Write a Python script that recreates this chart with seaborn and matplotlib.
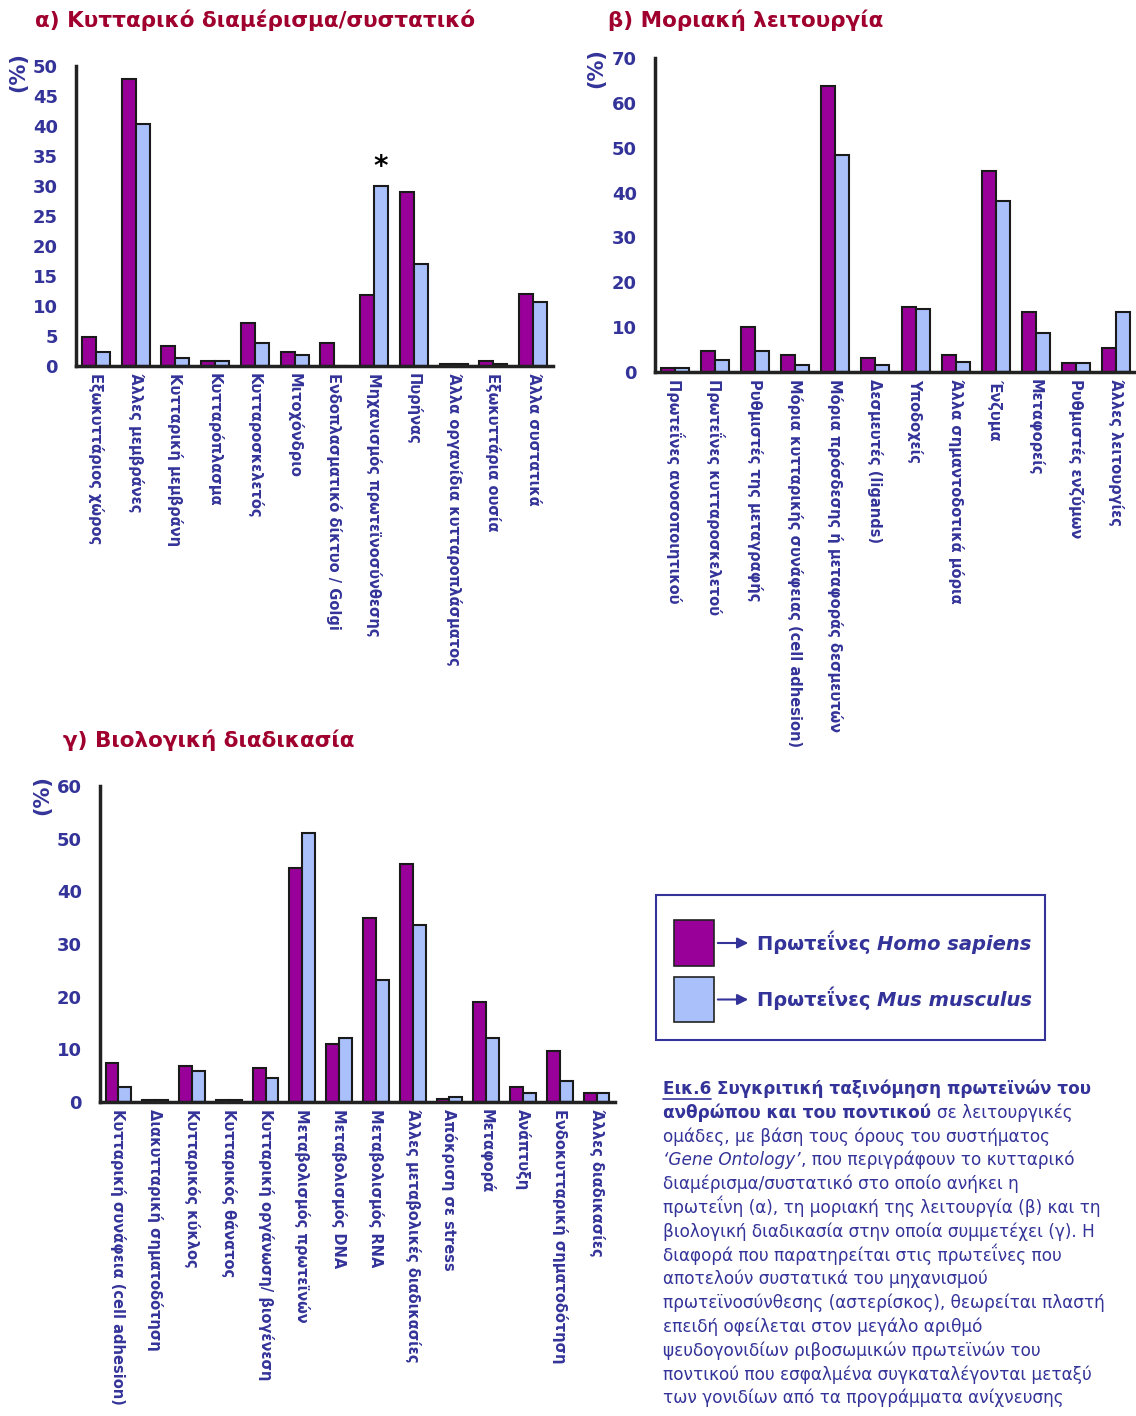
import matplotlib
matplotlib.use('Agg')
import matplotlib.pyplot as plt
import seaborn as sns
import pandas as pd
import numpy as np
from matplotlib.patches import Rectangle, FancyArrowPatch

# ---------------- data ----------------
cats_a = ['Εξωκυττάριος χώρος', 'Άλλες μεμβράνες', 'Κυτταρική μεμβράνη',
          'Κυτταρόπλασμα', 'Κυτταροσκελετός', 'Μιτοχόνδριο',
          'Ενδοπλασματικό δίκτυο / Golgi', 'Μηχανισμός πρωτεϊνοσύνθεσης',
          'Πυρήνας', 'Άλλα οργανίδια κυτταροπλάσματος', 'Εξωκυττάρια ουσία',
          'Άλλα συστατικά']
homo_a = [4.8, 47.8, 3.3, 0.9, 7.2, 2.3, 3.9, 11.8, 29.0, 0.3, 0.8, 12.0]
mus_a = [2.4, 40.3, 1.4, 0.9, 3.8, 1.9, 0.0, 30.0, 17.0, 0.3, 0.4, 10.6]

cats_b = ['Πρωτεΐνες ανοσοποιητικού', 'Πρωτεΐνες κυτταροσκελετού',
          'Ρυθμιστές της μεταγραφής', 'Μόρια κυτταρικής συνάφειας (cell adhesion)',
          'Μόρια πρόσδεσης ή μεταφοράς δεσμευτών', 'Δεσμευτές (ligands)',
          'Υποδοχείς', 'Άλλα σημαντοδοτικά μόρια', 'Ένζυμα', 'Μεταφορείς',
          'Ρυθμιστές ενζύμων', 'Άλλες λειτουργίες']
homo_b = [0.9, 4.6, 10.0, 3.9, 63.8, 3.2, 14.6, 3.9, 44.7, 13.4, 2.0, 5.4]
mus_b = [0.9, 2.7, 4.6, 1.6, 48.3, 1.6, 14.1, 2.2, 38.2, 8.6, 2.0, 13.4]

cats_c = ['Κυτταρική συνάφεια (cell adhesion)', 'Διακυτταρική σηματοδότηση',
          'Κυτταρικός κύκλος', 'Κυτταρικός θάνατος',
          'Κυτταρική οργάνωση/ βιογένεση', 'Μεταβολισμός πρωτεϊνών',
          'Μεταβολισμός DNA', 'Μεταβολισμός RNA',
          'Άλλες μεταβολικές διαδικασίες', 'Απόκριση σε stress', 'Μεταφορά',
          'Ανάπτυξη', 'Ενδοκυτταρική σηματοδότηση', 'Άλλες διαδικασίες']
homo_c = [7.4, 0.4, 6.9, 0.4, 6.4, 44.4, 11.1, 34.9, 45.2, 0.5, 18.9, 2.9, 9.6, 1.7]
mus_c = [2.9, 0.4, 5.8, 0.4, 4.6, 51.0, 12.2, 23.1, 33.6, 1.0, 12.2, 1.7, 4.0, 1.7]

species = ['Homo sapiens', 'Mus musculus']

PURPLE = '#990099'
LIGHTBLUE = '#a9c0fb'
EDGE = '#1a1a1a'
NAVY = '#333399'
TITLE_RED = '#a0002e'

W, H = 1136, 1416
fig = plt.figure(figsize=(W / 100, H / 100), dpi=100)
sns.set_style('white')
plt.rcParams['font.family'] = ['DejaVu Sans']


def rect(x0, x1, ytop, ybot):
    return [x0 / W, 1 - ybot / H, (x1 - x0) / W, (ybot - ytop) / H]


def fy(y):
    return 1 - y / H


def panel(r, cats, hs, ms, ymax, step, title, title_xy, pct_xy):
    n = len(cats)
    ax = fig.add_axes(r)
    df = pd.DataFrame({'cat': cats * 2, 'val': hs + ms,
                       'sp': [species[0]] * n + [species[1]] * n})
    sns.barplot(data=df, x='cat', y='val', hue='sp', order=cats,
                hue_order=species, palette=[PURPLE, LIGHTBLUE], saturation=1,
                width=0.7, edgecolor=EDGE, linewidth=1.5, legend=False, ax=ax)
    ax.set_xlim(-0.5, n - 0.5)
    ax.set_ylim(0, ymax)
    ax.set_yticks(range(0, ymax + 1, step))
    ax.set_xlabel('')
    ax.set_ylabel('')
    for s in ['top', 'right']:
        ax.spines[s].set_visible(False)
    for s in ['left', 'bottom']:
        ax.spines[s].set_linewidth(2.5)
        ax.spines[s].set_color('#222222')
    ax.set_xticks(range(n))
    ax.set_xticklabels(cats, rotation=270, ha='center', va='top',
                       fontsize=10.5, fontweight='bold', color=NAVY)
    ax.tick_params(axis='x', which='major', length=0, pad=5)
    ax.set_xticks(np.arange(-0.5, n), minor=True)
    ax.tick_params(axis='x', which='minor', length=7, width=2, color='#222222')
    ax.tick_params(axis='y', length=5, width=2, color='#222222',
                   labelsize=13, labelcolor=NAVY, pad=8)
    for lbl in ax.get_yticklabels():
        lbl.set_fontweight('bold')
    fig.text(title_xy[0] / W, fy(title_xy[1]), title, fontsize=15.5,
             fontweight='bold', color=TITLE_RED, va='center', ha='left')
    fig.text(pct_xy[0] / W, fy(pct_xy[1]), '(%)', fontsize=15,
             fontweight='bold', color=NAVY, rotation=90, va='center', ha='center')
    return ax


ax_a = panel(rect(76, 553, 66, 366), cats_a, homo_a, mus_a, 50, 5,
             'α) Κυτταρικό διαμέρισμα/συστατικό', (35, 20), (18, 72))
ax_b = panel(rect(655, 1136, 58, 372), cats_b, homo_b, mus_b, 70, 10,
             'β) Μοριακή λειτουργία', (608, 20), (596, 68))
ax_c = panel(rect(100, 615, 786, 1102), cats_c, homo_c, mus_c, 60, 10,
             'γ) Βιολογική διαδικασία', (63, 740), (42, 795))

# asterisk over the mouse protein-synthesis bar
ax_a.text(7 + 0.175, mus_a[7] + 0.8, '*', ha='center', va='bottom',
          fontsize=20, fontweight='bold', color='black')

renderer = fig.canvas.get_renderer()


def runs(x, y, parts, size, color=NAVY):
    # parts: list of (text, weight, style); y = baseline in px from top
    for txt, weight, style in parts:
        t = fig.text(x / W, fy(y), txt, fontsize=size, fontweight=weight,
                     fontstyle=style, color=color, va='baseline', ha='left')
        x = x + t.get_window_extent(renderer).width
    return x


# legend box
fig.patches.append(Rectangle((656 / W, fy(1040)), (1045 - 656) / W, (1040 - 895) / H,
                             transform=fig.transFigure, fill=False,
                             edgecolor=NAVY, linewidth=1.5))
for (ytop, ybot, col, name) in [(920, 966, PURPLE, 'Homo sapiens'),
                                (977, 1022, LIGHTBLUE, 'Mus musculus')]:
    fig.patches.append(Rectangle((674 / W, fy(ybot)), 40 / W, (ybot - ytop) / H,
                                 transform=fig.transFigure, facecolor=col,
                                 edgecolor='#222222', linewidth=1.2))
    ym = (ytop + ybot) / 2
    fig.patches.append(FancyArrowPatch((715 / W, fy(ym)), (751 / W, fy(ym)),
                                       transform=fig.transFigure,
                                       arrowstyle='-|>', mutation_scale=16,
                                       color=NAVY, linewidth=1.5))
    runs(757, ym + 7, [('Πρωτεΐνες ', 'bold', 'normal'),
                       (name, 'bold', 'italic')], 14)

# caption
cap_size = 12.2
base = 1094
step = 23.8
t = fig.text(663 / W, fy(base), 'Εικ.6', fontsize=cap_size, fontweight='bold',
             color=NAVY, va='baseline', ha='left')
bb = t.get_window_extent(renderer)
fig.lines.append(plt.Line2D([bb.x0 / W, bb.x1 / W], [(bb.y0 - 1) / H, (bb.y0 - 1) / H],
                            transform=fig.transFigure, color=NAVY, linewidth=1.2))
t.remove()
runs(663, base, [('Εικ.6 ', 'bold', 'normal'),
                 ('Συγκριτική ταξινόμηση πρωτεϊνών του', 'bold', 'normal')], cap_size)

lines = [
    [('ανθρώπου και του ποντικού ', 'bold', 'normal'), ('σε λειτουργικές', 'normal', 'normal')],
    [('ομάδες, με βάση τους όρους του συστήματος', 'normal', 'normal')],
    [('‘Gene Ontology’', 'normal', 'italic'), (', που περιγράφουν το κυτταρικό', 'normal', 'normal')],
    [('διαμέρισμα/συστατικό στο οποίο ανήκει η', 'normal', 'normal')],
    [('πρωτεΐνη (α), τη μοριακή της λειτουργία (β) και τη', 'normal', 'normal')],
    [('βιολογική διαδικασία στην οποία συμμετέχει (γ). Η', 'normal', 'normal')],
    [('διαφορά που παρατηρείται στις πρωτεΐνες που', 'normal', 'normal')],
    [('αποτελούν συστατικά του μηχανισμού', 'normal', 'normal')],
    [('πρωτεϊνοσύνθεσης (αστερίσκος), θεωρείται πλαστή', 'normal', 'normal')],
    [('επειδή οφείλεται στον μεγάλο αριθμό', 'normal', 'normal')],
    [('ψευδογονιδίων ριβοσωμικών πρωτεϊνών του', 'normal', 'normal')],
    [('ποντικού που εσφαλμένα συγκαταλέγονται μεταξύ', 'normal', 'normal')],
    [('των γονιδίων από τα προγράμματα ανίχνευσης', 'normal', 'normal')],
]
for i, parts in enumerate(lines):
    runs(663, base + step * (i + 1), parts, cap_size)

fig.savefig('out.png', dpi=100, facecolor='white')
